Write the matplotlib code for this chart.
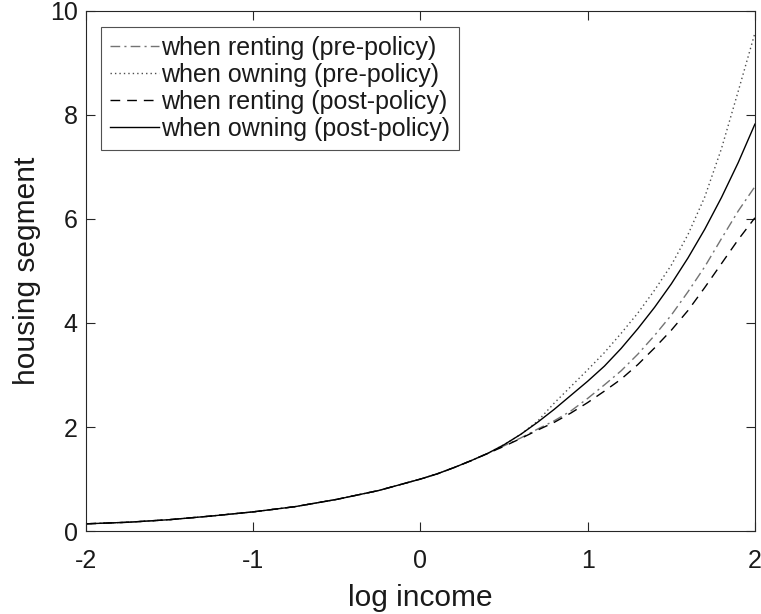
import matplotlib
matplotlib.use("Agg")
import matplotlib.pyplot as plt

plt.rcParams['font.family'] = ['Liberation Sans', 'DejaVu Sans']

# log income grid
log_income = [-2.0, -1.75, -1.5, -1.25, -1.0, -0.75, -0.5, -0.25, 0.0,
              0.1, 0.2, 0.3, 0.4, 0.5, 0.6, 0.7, 0.8, 0.9, 1.0,
              1.1, 1.2, 1.3, 1.4, 1.5, 1.6, 1.7, 1.8, 1.9, 2.0]

renting_pre = [0.14, 0.17, 0.22, 0.29, 0.37, 0.47, 0.61, 0.78, 1.00,
               1.10, 1.22, 1.35, 1.49, 1.64, 1.79, 1.96, 2.12, 2.31, 2.55,
               2.81, 3.08, 3.40, 3.76, 4.15, 4.60, 5.08, 5.62, 6.15, 6.62]

owning_pre = [0.14, 0.17, 0.22, 0.29, 0.37, 0.47, 0.61, 0.78, 1.00,
              1.10, 1.22, 1.35, 1.49, 1.66, 1.86, 2.11, 2.46, 2.78, 3.10,
              3.43, 3.80, 4.19, 4.63, 5.11, 5.70, 6.42, 7.35, 8.45, 9.57]

renting_post = [0.14, 0.17, 0.22, 0.29, 0.37, 0.47, 0.61, 0.78, 1.00,
                1.10, 1.22, 1.35, 1.49, 1.63, 1.78, 1.94, 2.09, 2.27, 2.47,
                2.69, 2.92, 3.20, 3.52, 3.86, 4.24, 4.68, 5.14, 5.60, 6.02]

owning_post = [0.14, 0.17, 0.22, 0.29, 0.37, 0.47, 0.61, 0.78, 1.00,
               1.10, 1.22, 1.35, 1.49, 1.66, 1.86, 2.09, 2.34, 2.61, 2.88,
               3.17, 3.51, 3.89, 4.30, 4.75, 5.25, 5.80, 6.41, 7.08, 7.82]

labels = ['when renting (pre-policy)', 'when owning (pre-policy)',
          'when renting (post-policy)', 'when owning (post-policy)']
x_ticks = [-2, -1, 0, 1, 2]
y_ticks = [0, 2, 4, 6, 8, 10]

fig = plt.figure(figsize=(7.61, 6.14), dpi=100)
ax = fig.add_axes([0.113, 0.135, 0.879, 0.8476])

ax.plot(log_income, renting_pre, linestyle=(0, (7, 3, 1.5, 3)), color='0.45', lw=1.0, label=labels[0])
ax.plot(log_income, owning_pre, linestyle=(0, (1, 2.2)), color='0.3', lw=1.0, label=labels[1])
ax.plot(log_income, renting_post, linestyle=(0, (7, 5)), color='black', lw=1.0, label=labels[2])
ax.plot(log_income, owning_post, linestyle='-', color='black', lw=1.0, label=labels[3])

ax.set_xlim(-2, 2)
ax.set_ylim(0, 10)
ax.set_xticks(x_ticks)
ax.set_xticklabels([str(v) for v in x_ticks])
ax.set_yticks(y_ticks)
ax.set_yticklabels([str(v) for v in y_ticks])

for sp in ax.spines.values():
    sp.set_color('0.15')
    sp.set_linewidth(0.8)
ax.tick_params(direction='in', length=6.5, width=0.8, colors='0.15',
               top=True, right=True, labelsize=18, labelcolor='0.1')
ax.tick_params(axis='x', pad=13)
ax.tick_params(axis='y', pad=6)

ax.set_xlabel('log income', fontsize=21.5, color='0.1', labelpad=8)
ax.set_ylabel('housing segment', fontsize=21.5, color='0.1', labelpad=6)

leg = ax.legend(loc='upper left', bbox_to_anchor=(0.0224, 0.969), fontsize=18,
                frameon=True, fancybox=False, handlelength=1.95, handletextpad=0.1,
                labelspacing=0.12, borderpad=0.36, borderaxespad=0.0)
leg.get_frame().set_edgecolor('0.15')
leg.get_frame().set_linewidth(0.8)
for t in leg.get_texts():
    t.set_color('0.1')

fig.savefig('out.png', dpi=100)
